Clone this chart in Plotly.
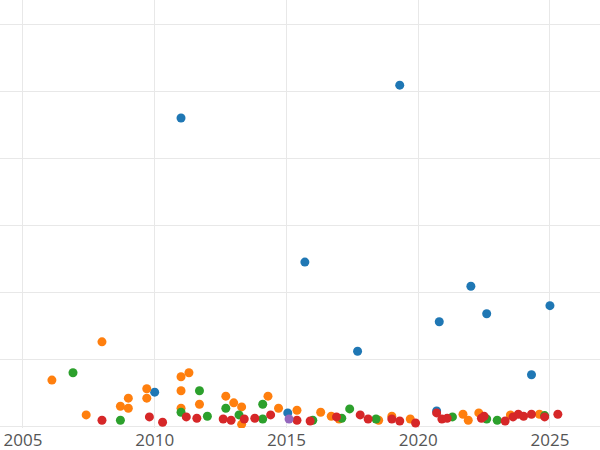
import plotly.graph_objects as go

blue_x = [2011.0, 2019.3, 2015.7, 2022.0, 2025.0, 2022.6, 2020.8, 2017.7, 2024.3, 2010.0, 2020.7, 2015.05]
blue_y = [4.61, 5.10, 2.46, 2.10, 1.81, 1.69, 1.57, 1.13, 0.78, 0.52, 0.24, 0.21]

orange_x = [2006.1, 2008.0, 2011.3, 2011.0, 2011.0, 2009.7, 2009.0, 2009.7, 2007.4, 2008.7, 2009.0,
            2011.7, 2012.7, 2013.0, 2013.3, 2014.3, 2014.7, 2015.4, 2011.0, 2013.3, 2016.3, 2016.7,
            2019.0, 2019.7, 2021.7, 2022.3, 2023.5, 2024.6, 2018.5, 2021.9, 2017.0]
orange_y = [0.70, 1.27, 0.81, 0.75, 0.54, 0.57, 0.43, 0.43, 0.18, 0.31, 0.28,
            0.34, 0.46, 0.36, 0.30, 0.46, 0.28, 0.25, 0.28, 0.04, 0.22, 0.16,
            0.16, 0.12, 0.19, 0.21, 0.18, 0.19, 0.10, 0.10, 0.12]

green_x = [2006.9, 2011.7, 2014.1, 2017.4, 2008.7, 2011.0, 2012.0, 2012.7, 2013.2, 2014.1, 2016.0,
           2017.1, 2018.4, 2021.3, 2022.6, 2023.0, 2024.8]
green_y = [0.81, 0.54, 0.34, 0.27, 0.10, 0.22, 0.16, 0.28, 0.18, 0.12, 0.10,
           0.13, 0.12, 0.15, 0.12, 0.10, 0.17]

red_x = [2008.0, 2009.8, 2010.3, 2011.2, 2011.6, 2012.6, 2012.9, 2013.4, 2013.8, 2014.4, 2015.4,
         2015.9, 2016.9, 2017.8, 2018.1, 2019.0, 2019.3, 2019.9, 2020.7, 2020.9, 2021.1, 2022.4,
         2022.5, 2023.3, 2023.6, 2023.8, 2024.0, 2024.3, 2024.8, 2025.3]
red_y = [0.10, 0.15, 0.07, 0.15, 0.13, 0.12, 0.10, 0.12, 0.13, 0.18, 0.10,
         0.09, 0.15, 0.18, 0.12, 0.12, 0.09, 0.06, 0.21, 0.12, 0.13, 0.13,
         0.16, 0.09, 0.15, 0.19, 0.16, 0.19, 0.15, 0.19]

purple_x = [2015.1]
purple_y = [0.12]

fig = go.Figure()
for name, xs, ys, col in [("blue", blue_x, blue_y, "#1f77b4"),
                          ("orange", orange_x, orange_y, "#ff7f0e"),
                          ("green", green_x, green_y, "#2ca02c"),
                          ("red", red_x, red_y, "#d62728"),
                          ("purple", purple_x, purple_y, "#9467bd")]:
    fig.add_trace(go.Scatter(x=xs, y=ys, mode="markers", name=name,
                             marker=dict(color=col, size=9)))

fig.update_layout(
    width=600, height=450, showlegend=False,
    margin=dict(l=0, r=0, t=0, b=22),
    plot_bgcolor="white", paper_bgcolor="white",
    font=dict(family="Open Sans", size=17, color="#555"),
)
fig.update_xaxes(range=[2004.13, 2026.9], dtick=5, gridcolor="#e8e8e8", zeroline=False,
                 showline=False, ticks="")
fig.update_yaxes(range=[-0.015, 6.37], dtick=1, gridcolor="#e8e8e8", zeroline=False,
                 showticklabels=False)
fig.write_html("out.html", config={"displayModeBar": False},
               post_script="document.body.style.margin='0';")
